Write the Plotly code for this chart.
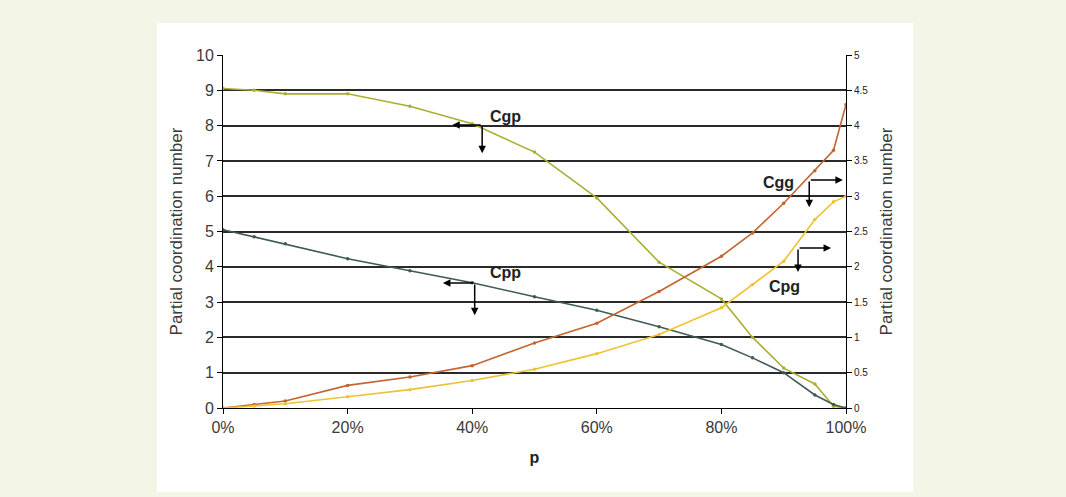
import plotly.graph_objects as go

# Fraction p of the component (percent)
p_values = [0, 5, 10, 20, 30, 40, 50, 60, 70, 80, 85, 90, 95, 98, 100]

# Left axis series
cgp = [9.05, 9.0, 8.9, 8.9, 8.55, 8.05, 7.25, 5.95, 4.13, 3.09, 2.0, 1.13, 0.68, 0.05, 0.0]
cpp = [5.05, 4.85, 4.65, 4.23, 3.89, 3.55, 3.15, 2.77, 2.3, 1.8, 1.42, 1.0, 0.37, 0.1, 0.0]

# Right axis series
cgg = [0.0, 0.05, 0.1, 0.32, 0.44, 0.6, 0.92, 1.2, 1.65, 2.15, 2.48, 2.9, 3.36, 3.65, 4.3]
cpg = [0.0, 0.03, 0.06, 0.16, 0.26, 0.39, 0.55, 0.77, 1.04, 1.42, 1.75, 2.08, 2.67, 2.92, 3.0]

x_ticks = [0, 20, 40, 60, 80, 100]
x_tick_labels = ["0%", "20%", "40%", "60%", "80%", "100%"]
left_ticks = list(range(0, 11))
right_ticks = [0, 0.5, 1, 1.5, 2, 2.5, 3, 3.5, 4, 4.5, 5]
right_tick_labels = ["0", "0.5", "1", "1.5", "2", "2.5", "3", "3.5", "4", "4.5", "5"]

fig = go.Figure()

def add_series(y, color, axis):
    fig.add_trace(go.Scatter(
        x=p_values, y=y, mode="lines+markers", yaxis=axis,
        line=dict(color=color, width=1.6),
        marker=dict(color=color, size=3.5),
        showlegend=False, hoverinfo="skip",
    ))

add_series(cgp, "#abae34", "y")
add_series(cpp, "#3f5b55", "y")
add_series(cgg, "#c4642e", "y2")
add_series(cpg, "#eec232", "y2")

# Curve labels with L-shaped pointers (horizontal -> axis side, vertical -> down)
labels = [
    # text, label x, label y, corner x, corner y, horizontal end x, vertical end y
    ("Cgp", 45.4, 8.25, 41.6, 8.02, 36.8, 7.22),
    ("Cpp", 45.4, 3.85, 40.4, 3.54, 35.3, 2.63),
    ("Cgg", 89.1, 6.4, 94.1, 6.46, 99.5, 5.69),
    ("Cpg", 90.2, 3.44, 92.3, 4.53, 97.6, 3.85),
]
for text, lx, ly, cx, cy, hx, vy in labels:
    fig.add_annotation(x=lx, y=ly, xref="x", yref="y", text="<b>%s</b>" % text,
                       showarrow=False, font=dict(family="Liberation Sans Narrow, Arial", size=16, color="#222"))
    for tx, ty in [(hx, cy), (cx, vy)]:
        fig.add_annotation(x=tx, y=ty, xref="x", yref="y", ax=cx, ay=cy,
                           axref="x", ayref="y", text="", showarrow=True,
                           arrowhead=2, arrowsize=1, arrowwidth=1.5, arrowcolor="#000")

# White panel behind the chart
fig.add_shape(type="rect", xref="paper", yref="paper",
              x0=-0.106, x1=1.108, y0=-0.238, y1=1.091,
              fillcolor="white", line=dict(width=0), layer="below")

tick_font = dict(family="Liberation Sans, Arial", size=16, color="#3a3a3a")
title_font = dict(family="Liberation Sans, Arial", size=17, color="#3a3a3a")

fig.update_layout(
    width=1066, height=497,
    margin=dict(l=223, r=220, t=55, b=89),
    paper_bgcolor="#f3f6e7",
    plot_bgcolor="white",
    xaxis=dict(range=[0, 100], tickvals=x_ticks, ticktext=x_tick_labels,
               showgrid=False, zeroline=False, showline=True, linecolor="#000",
               linewidth=1, ticks="outside", ticklen=5, tickcolor="#000",
               tickfont=tick_font,
               title=dict(text="<b>p</b>", font=dict(family="Liberation Sans Narrow, Arial", size=16, color="#222"), standoff=16)),
    yaxis=dict(range=[0, 10], tickvals=left_ticks, showgrid=True, gridcolor="#2a2a2a",
               gridwidth=1.5, zeroline=False, showline=True, linecolor="#000",
               ticks="outside", ticklen=5, tickcolor="#000", tickfont=tick_font,
               title=dict(text="Partial coordination number", font=title_font, standoff=9)),
    yaxis2=dict(range=[0, 5], tickvals=right_ticks, ticktext=right_tick_labels,
                overlaying="y", side="right", showgrid=False, zeroline=False,
                showline=True, linecolor="#000", ticks="outside", ticklen=5,
                tickcolor="#000",
                tickfont=dict(family="Liberation Sans, Arial", size=10, color="#222"),
                title=dict(text="Partial coordination number", font=title_font, standoff=12)),
)

fig.write_html("out.html")
